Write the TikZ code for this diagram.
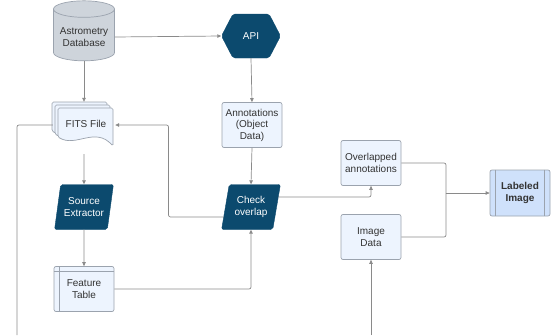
\documentclass[tikz,border=0pt]{standalone}
\usepackage{fontspec}
\setmainfont{Liberation Sans}
\usepackage{xcolor}
\usetikzlibrary{arrows.meta,shapes.geometric,shapes.symbols}
\definecolor{navy}{HTML}{0C4A6E}
\definecolor{paper}{HTML}{EDF4FE}
\definecolor{edge}{HTML}{9BA3AE}
\definecolor{wiregray}{HTML}{8A8A8A}
\definecolor{labelblue}{HTML}{CFE1FB}
\definecolor{dbgray}{HTML}{CED4DB}
\definecolor{ink}{HTML}{333333}

\begin{document}
\begin{tikzpicture}[x=1pt,y=-1pt,
  txt/.style={font=\fontsize{10}{11.5}\selectfont,align=center,text=ink},
  box/.style={txt,draw=edge,fill=paper,rounded corners=2pt,line width=0.7pt,
              minimum width=60pt,minimum height=45pt,inner sep=1pt},
  dark/.style={txt,text=white,fill=navy,draw=navy,rounded corners=2pt,
               minimum width=59pt,minimum height=45pt,inner sep=1pt},
  para/.style={dark,trapezium,trapezium left angle=75,trapezium right angle=105,
               trapezium stretches=true},
  wire/.style={wiregray,line width=0.7pt,rounded corners=2pt},
  arr/.style={wire,-{Triangle[length=4pt,width=3.5pt]}}]

  \useasboundingbox (0,0) rectangle (552,335);

  % Sources
  \node[txt,cylinder,shape border rotate=90,aspect=0.3,draw=edge,fill=dbgray,
        line width=0.7pt,minimum width=61pt,minimum height=60pt] (db) at (84,37)
        {Astrometry\\Database};
  \node[dark,signal,signal to=east and west,signal pointer angle=125,
        minimum height=44pt] (api) at (251,36) {API};

  % FITS file: stacked pages
  \foreach \d in {0,3,6}{
    \draw[edge,fill=paper,line width=0.7pt,rounded corners=1.5pt]
      (52+\d,102+\d) -- (107+\d,102+\d) -- (107+\d,140+\d)
      .. controls (89+\d,120+\d) and (70+\d,142+\d) .. (52+\d,131+\d) -- cycle;
  }
  \node[txt,minimum width=62pt,minimum height=46pt] (fits) at (84,125) {};
  \node[txt] at (86,124) {FITS File};

  \node[box] (ann) at (252,125) {Annotations\\(Object\\Data)};
  \node[para] (src) at (84,207) {Source\\Extractor};
  \node[para] (chk) at (251,207) {Check\\overlap};

  % Feature table (internal storage)
  \node[box] (feat) at (84,289) {Feature\\Table};
  \draw[edge,line width=0.7pt] (feat.north west) ++(6,0) -- ++(0,45);
  \draw[edge,line width=0.7pt] (feat.north west) ++(0,5) -- ++(60,0);

  \node[box] (ovl) at (371,163) {Overlapped\\annotations};
  \node[box] (img) at (371,237) {Image\\Data};

  % Result
  \node[box,fill=labelblue,font=\fontsize{10}{11.5}\selectfont\bfseries,
        minimum height=46pt] (lbl) at (520,193) {Labeled\\Image};
  \draw[edge,line width=0.7pt] (lbl.north west) ++(6,0) -- ++(0,46);
  \draw[edge,line width=0.7pt] (lbl.north east) ++(-6,0) -- ++(0,46);

  \coordinate (fitsout) at (17,335);
  \coordinate (imgin) at (371,335);
  \coordinate (jn) at (446,193);

  % Connectors
  \draw[arr] (db.east) -- (api.west);
  \draw[arr] (db.south) -- (fits.north);
  \draw[arr] (api.south) -- (ann.north);
  \draw[arr] (ann.south) -- (chk.north);
  \draw[arr] ([yshift=-6pt]fits.south) -- (src.north);
  \draw[arr] (src.south) -- (feat.north);
  \draw[arr] (feat.east) -| (chk.south);
  \draw[arr] (chk.200) -- ++(-55,0) |- (fits.east);
  \draw[arr] (chk.20) -| (ovl.south);
  \draw[wire] (fits.west) -| (fitsout);
  \draw[wire] (ovl.east) -| (jn);
  \draw[wire] (img.east) -| (jn);
  \draw[arr] (jn) -- (lbl.west);
  \draw[arr] (imgin) -- (img.south);
\end{tikzpicture}
\end{document}
